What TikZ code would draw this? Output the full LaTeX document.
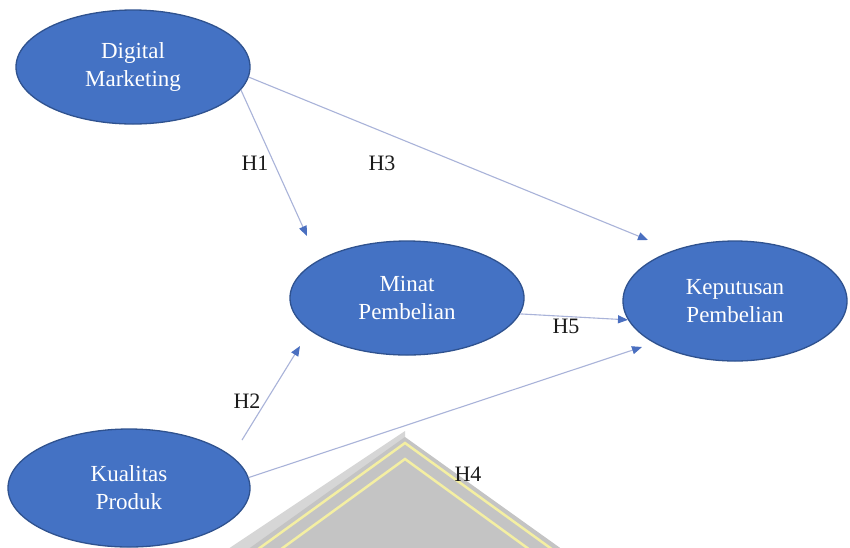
\documentclass[tikz,border=0pt]{standalone}
\usepackage{fontspec}
\setmainfont{Liberation Serif}
\usetikzlibrary{shapes.geometric,arrows.meta}
\definecolor{ellfill}{HTML}{4472C4}
\definecolor{ellborder}{HTML}{2F528F}
\definecolor{linecol}{HTML}{A9B3D9}
\definecolor{tipcol}{HTML}{4A6FC0}
\definecolor{labcol}{HTML}{1A1A1A}
\definecolor{wmlight}{HTML}{D6D6D6}
\definecolor{wmgray}{HTML}{C4C4C4}
\definecolor{wmyellow}{HTML}{F4EFA2}
\tikzset{
  var/.style={ellipse, draw=ellborder, line width=1.3pt, fill=ellfill, text=white,
    font=\fontsize{23}{28}\selectfont, align=center, inner sep=0pt},
  hyp/.style={font=\fontsize{22}{26}\selectfont, text=labcol, inner sep=0pt},
  link/.style={draw=linecol, line width=1.1pt, -{Triangle[length=10pt,width=8pt,color=tipcol]}},
  wmline/.style={draw=wmyellow, line width=2.5pt}
}
\begin{document}
\begin{tikzpicture}[x=1pt,y=-1pt]
\useasboundingbox (0,0) rectangle (850,547);
\fill[white] (0,0) rectangle (850,547);
% watermark
\begin{scope}
\clip (0,0) rectangle (850,547);
\fill[wmlight] (405,431) -- (228,549) -- (405,549) -- cycle;
\fill[wmgray] (405,437) -- (240,555) -- (570,555) -- cycle;
\draw[wmline] (250,555) -- (405,443) -- (560,555);
\draw[wmline] (273,555) -- (405,459) -- (537,555);
\end{scope}
% variables
\node[var, minimum width=234pt, minimum height=114pt] (dm) at (133,67) {Digital\\Marketing};
\node[var, minimum width=234pt, minimum height=114pt] (mp) at (407,298) {Minat\\Pembelian};
\node[var, minimum width=224pt, minimum height=120pt] (kp) at (735,301) {Keputusan\\Pembelian};
\node[var, minimum width=242pt, minimum height=118pt] (kq) at (129,488) {Kualitas\\Produk};
% arrow ends
\coordinate (t1) at (307,236);
\coordinate (t3) at (648,240);
\coordinate (t2) at (300,346);
\coordinate (s2) at (242,440);
\coordinate (t4) at (642,347);
\draw[link] (dm.-12) -- (t1);
\draw[link] (dm.-5) -- (t3);
\draw[link] (mp.-8) -- (kp.190);
\draw[link] (s2) -- (t2);
\draw[link] (kq.5) -- (t4);
% labels
\node[hyp] (h1) at (255,163) {H1};
\node[hyp] (h3) at (382,163) {H3};
\node[hyp] (h5) at (566,326) {H5};
\node[hyp] (h2) at (247,401) {H2};
\node[hyp] (h4) at (468,474) {H4};
\end{tikzpicture}
\end{document}
